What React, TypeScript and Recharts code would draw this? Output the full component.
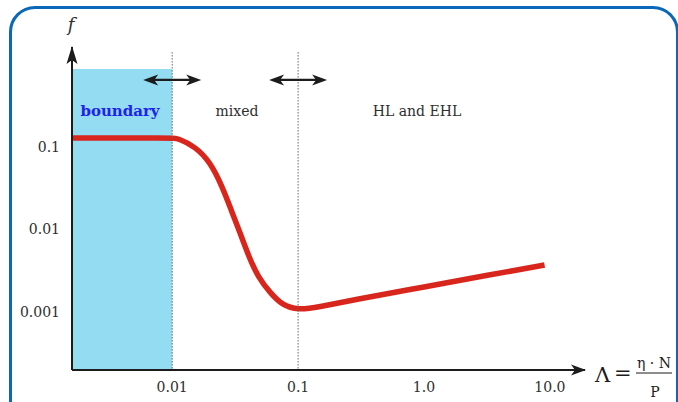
import React from "react";
import {
  Line,
  LineChart,
  ReferenceArea,
  ReferenceDot,
  ReferenceLine,
  XAxis,
  YAxis,
} from "recharts";

// Stribeck curve, values (log-log)
const lambdaValues = [0.0016, 0.01, 0.011, 0.0153, 0.0202, 0.025, 0.0294, 0.0346, 0.0407, 0.048, 0.0603, 0.0745, 0.1, 0.144, 0.271, 1.0, 3.16, 9.07];
const frictionValues = [0.127, 0.127, 0.127, 0.1, 0.064, 0.0327, 0.0172, 0.00908, 0.00465, 0.00266, 0.0017, 0.00122, 0.00106, 0.00115, 0.0014, 0.00202, 0.00278, 0.00372];

const xTicks = [0.01, 0.1, 1, 10];
const xTickLabels = ["0.01", "0.1", "1.0", "10.0"];
const yTicks = [0.001, 0.01, 0.1];
const yTickLabels = ["0.001", "0.01", "0.1"];

const xDomain = [0.0016, 19];
const yDomain = [0.0002, 1.6];

const regimeBounds = [0.01, 0.1];
const regimeNames = ["boundary", "mixed", "HL and EHL"];
const regimeNameX = [0.00385, 0.0327, 0.88];
const regimeNameY = 0.235;
const boundaryTop = 0.87;
const arrowY = 0.64;
const arrowSpread = 1.7;
const dottedTop = 1.39;

const data = lambdaValues.map((x, i) => ({ x, f: frictionValues[i] }));

const SERIF = "'DejaVu Serif', serif";
const INK = "#1c1c1c";
const TEXT = "#2e2e2e";

function head(tx: number, ty: number, dir: number) {
  // dart shaped arrow head, dir = 1 right, -1 left
  const L = 15 * dir;
  return `M${tx},${ty} L${tx - L},${ty - 5.5} L${tx - L + 4 * dir},${ty} L${tx - L},${ty + 5.5} Z`;
}

const DoubleArrow = (props: any) => {
  const { x1, x2, y1 } = props;
  const left = Math.min(x1, x2);
  const right = Math.max(x1, x2);
  return (
    <g>
      <line x1={left + 6} x2={right - 6} y1={y1} y2={y1} stroke={INK} strokeWidth={2.2} />
      <path d={head(right, y1, 1)} fill={INK} />
      <path d={head(left, y1, -1)} fill={INK} />
    </g>
  );
};

const RegimeText = (name: string, color: string, bold: boolean) => (props: any) => (
  <text
    x={props.cx}
    y={props.cy}
    textAnchor="middle"
    fontFamily={SERIF}
    fontSize={bold ? 15 : 14}
    fontWeight={bold ? 700 : 400}
    fill={color}
  >
    {name}
  </text>
);

const YAxisEnd = (props: any) => {
  const { cx, cy } = props;
  return (
    <g>
      <path d={`M${cx},${cy - 1} L${cx - 5.5},${cy + 17} L${cx},${cy + 13} L${cx + 5.5},${cy + 17} Z`} fill={INK} />
      <text x={cx - 1} y={cy - 16} textAnchor="middle" fontFamily={SERIF} fontStyle="italic" fontSize={18} fill={TEXT}>
        f
      </text>
    </g>
  );
};

const XAxisEnd = (props: any) => {
  const { cx, cy } = props;
  return (
    <g fontFamily={SERIF} fill={INK}>
      <path d={head(cx + 1, cy, 1)} fill={INK} />
      <text x={cx + 10} y={cy + 12} fontSize={21}>
        Λ
      </text>
      <text x={cx + 29} y={cy + 10} fontSize={21}>
        =
      </text>
      <line x1={cx + 51} x2={cx + 87} y1={cy + 3} y2={cy + 3} stroke={INK} strokeWidth={1.2} />
      <text x={cx + 69} y={cy - 2} fontSize={14} textAnchor="middle">
        η · N
      </text>
      <text x={cx + 70} y={cy + 27} fontSize={14} textAnchor="middle">
        P
      </text>
    </g>
  );
};

export default function App() {
  return (
    <div style={{ position: "relative", width: 678, height: 402, overflow: "hidden", background: "#fff" }}>
      <style>{"body{margin:0}"}</style>
      <div
        style={{
          position: "absolute",
          left: 8.5,
          top: 5.5,
          width: 670,
          height: 460,
          border: "3px solid #0b68b9",
          borderRadius: 26,
          boxSizing: "border-box",
        }}
      />
      <div style={{ position: "absolute", left: 0, top: 0 }}>
        <LineChart width={678} height={402} data={data} margin={{ top: 47, right: 93, bottom: 2, left: 12 }}>
          <ReferenceArea
            x1={xDomain[0]}
            x2={regimeBounds[0]}
            y1={yDomain[0]}
            y2={boundaryTop}
            fill="#93dcf1"
            fillOpacity={1}
            stroke="none"
          />
          <XAxis
            dataKey="x"
            type="number"
            scale="log"
            domain={xDomain}
            ticks={xTicks}
            interval={0}
            allowDataOverflow
            height={30}
            tickLine={false}
            tickMargin={6}
            axisLine={{ stroke: INK, strokeWidth: 2 }}
            tick={{ fontFamily: SERIF, fontSize: 14, fill: TEXT }}
            tickFormatter={(v: number) => xTickLabels[xTicks.indexOf(v)] ?? String(v)}
          />
          <YAxis
            type="number"
            scale="log"
            domain={yDomain}
            ticks={yTicks}
            interval={0}
            allowDataOverflow
            width={60}
            tickLine={false}
            tickMargin={6}
            axisLine={{ stroke: INK, strokeWidth: 2 }}
            tick={{ fontFamily: SERIF, fontSize: 14, fill: TEXT }}
            tickFormatter={(v: number) => yTickLabels[yTicks.indexOf(v)] ?? String(v)}
          />
          <Line
            dataKey="f"
            type="basis"
            stroke="#d8261d"
            strokeWidth={5.5}
            dot={false}
            activeDot={false}
            isAnimationActive={false}
          />
          {regimeBounds.map((b) => (
            <ReferenceLine
              key={`dot-${b}`}
              segment={[
                { x: b, y: dottedTop },
                { x: b, y: yDomain[0] },
              ]}
              stroke="#666"
              strokeWidth={1}
              strokeDasharray="1.5 1.5"
            />
          ))}
          {regimeBounds.map((b) => (
            <ReferenceLine
              key={`arr-${b}`}
              segment={[
                { x: b / arrowSpread, y: arrowY },
                { x: b * arrowSpread, y: arrowY },
              ]}
              shape={DoubleArrow}
            />
          ))}
          {regimeNames.map((name, i) => (
            <ReferenceDot
              key={name}
              x={regimeNameX[i]}
              y={regimeNameY}
              r={0}
              ifOverflow="visible"
              shape={RegimeText(name, i === 0 ? "#1f22ee" : TEXT, i === 0)}
            />
          ))}
          <ReferenceDot x={xDomain[0]} y={yDomain[1]} r={0} ifOverflow="visible" shape={YAxisEnd} />
          <ReferenceDot x={xDomain[1]} y={yDomain[0]} r={0} ifOverflow="visible" shape={XAxisEnd} />
        </LineChart>
      </div>
    </div>
  );
}
